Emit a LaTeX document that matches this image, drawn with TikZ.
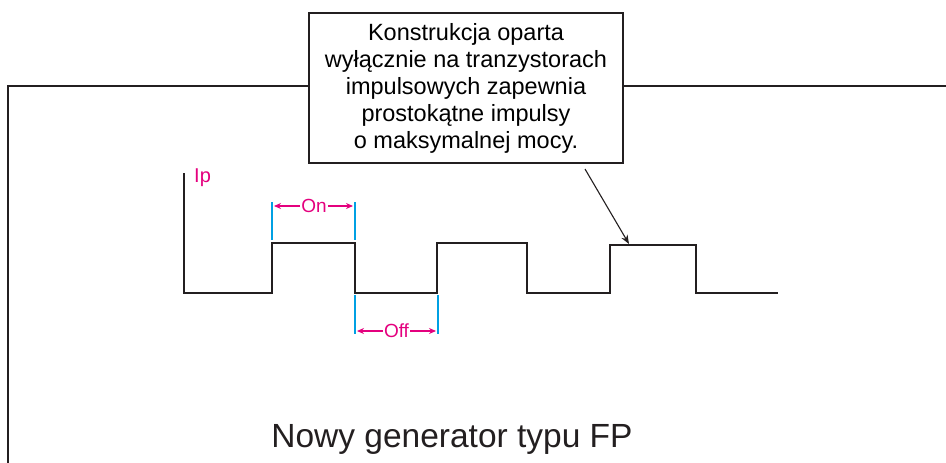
\documentclass[tikz,border=0pt]{standalone}
\usepackage{fontspec}
\setmainfont{Liberation Sans}
\usetikzlibrary{arrows.meta}
\definecolor{mag}{RGB}{228,0,126}
\definecolor{tickblue}{RGB}{0,160,227}
\definecolor{ink}{RGB}{35,31,32}
\tikzset{
  frameline/.style={draw=ink,line width=1.4pt},
  wave/.style={draw=ink,line width=1.8pt,line join=miter},
  tickline/.style={draw=tickblue,line width=1.1pt},
  dimarrow/.style={draw=mag,line width=1.2pt,-{Stealth[length=7pt,width=6pt]}},
  lbl/.style={text=mag,inner sep=0pt,font=\fontsize{19}{19}\selectfont},
  notebox/.style={draw=ink,line width=1.4pt,fill=white,align=center,minimum width=314pt,minimum height=150pt,inner sep=0pt,font=\fontsize{23.5}{27}\selectfont}
}
\begin{document}
\begin{tikzpicture}[x=1pt,y=-1pt]
\useasboundingbox (0,0) rectangle (946,463);
% frame
\node[notebox] (note) at (466,88) {Konstrukcja oparta\\wyłącznie na tranzystorach\\impulsowych zapewnia\\prostokątne impulsy\\o maksymalnej mocy.};
\coordinate (fl) at (8,86);
\coordinate (fb) at (8,463);
\coordinate (fr) at (946,86);
\draw[frameline] (note.west |- fl) -- (fl) -- (fb);
\draw[frameline] (note.east |- fr) -- (fr);
% waveform
\draw[wave] (184,173) -- (184,293) -- (272,293) -- (272,243) -- (355,243) -- (355,293) -- (437,293) -- (437,243) -- (527,243) -- (527,293) -- (610,293) -- (610,245) -- (696,245) -- (696,293) -- (778,293);
\node[text=mag,anchor=base west,inner sep=0pt,font=\fontsize{20}{20}\selectfont] (ip) at (194,182) {Ip};
% On
\draw[tickline] (272,202) -- (272,240);
\draw[tickline] (355,202) -- (355,240);
\draw[tickline] (355,295) -- (355,334);
\draw[tickline] (438,295) -- (438,334);
\node[lbl] (on) at (314,206) {On};
\coordinate (onl) at (274,206);
\coordinate (onr) at (353,206);
\draw[dimarrow] (on.west) ++(-1,0) -- (onl);
\draw[dimarrow] (on.east) ++(1,0) -- (onr);
\node[lbl] (off) at (396.5,331) {Off};
\coordinate (offl) at (357,331);
\coordinate (offr) at (436,331);
\draw[dimarrow] (off.west) ++(-1,0) -- (offl);
\draw[dimarrow] (off.east) ++(1,0) -- (offr);
% pointer arrow
\coordinate (pa) at (585,169);
\coordinate (pb) at (629,244);
\draw[draw=ink,line width=1.1pt,-{Stealth[length=9pt,width=7pt]}] (pa) -- (pb);
% title
\node[anchor=base,inner sep=0pt,text=ink,font=\fontsize{33.5}{33.5}\selectfont] (title) at (452,447) {Nowy generator typu FP};
\end{tikzpicture}
\end{document}
